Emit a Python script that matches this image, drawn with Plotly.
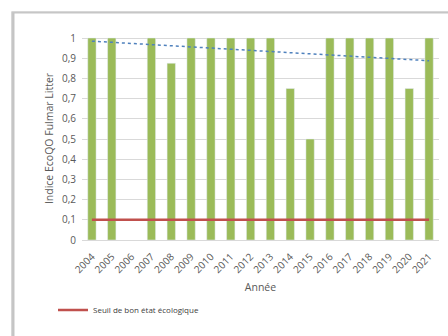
import numpy as np
import plotly.graph_objects as go

years = [str(y) for y in range(2004, 2022)]
values = [1, 1, None, 1, 0.875, 1, 1, 1, 1, 1, 0.75, 0.5, 1, 1, 1, 1, 0.75, 1]
threshold = [0.1] * len(years)
y_ticks = [0, 0.1, 0.2, 0.3, 0.4, 0.5, 0.6, 0.7, 0.8, 0.9, 1]

# linear trend (as Excel trendline) from available data
xs = np.array([int(y) for y, v in zip(years, values) if v is not None], dtype=float)
vs = np.array([v for v in values if v is not None], dtype=float)
slope, intercept = np.polyfit(xs, vs, 1)
trend = [slope * int(y) + intercept for y in years]

W, H = 448, 336
L, R, T, B = 82, 9, 37, 96
pw, ph = W - L - R, H - T - B

def px(x):
    return (x - L) / pw

def py(y):
    return (H - B - y) / ph

fig = go.Figure()
fig.add_trace(go.Bar(x=years, y=values, marker_color="#9bbb59", showlegend=False,
                     name="EcoQO"))
fig.add_trace(go.Scatter(x=years, y=threshold, mode="lines",
                         line=dict(color="#c0504d", width=2.5),
                         name="Seuil de bon état écologique"))
fig.add_trace(go.Scatter(x=years, y=trend, mode="lines",
                         line=dict(color="#4f81bd", width=1.5, dash="dot"),
                         showlegend=False, name="Tendance"))

# chart frame with shadow
fig.add_shape(type="rect", xref="paper", yref="paper",
              x0=px(11), x1=px(460), y0=py(345), y1=py(11),
              line=dict(width=0), fillcolor="#e6e6e6", layer="below")
fig.add_shape(type="rect", xref="paper", yref="paper",
              x0=px(12), x1=px(460), y0=py(345), y1=py(12),
              line=dict(color="#c8c8c8", width=1), fillcolor="#c4c4c4", layer="below")
fig.add_shape(type="rect", xref="paper", yref="paper",
              x0=px(14.5), x1=px(460), y0=py(345), y1=py(13.5),
              line=dict(width=0), fillcolor="white", layer="below")

fig.update_layout(
    width=W, height=H,
    margin=dict(l=L, r=R, t=T, b=B),
    paper_bgcolor="white", plot_bgcolor="rgba(0,0,0,0)",
    separators=", ",
    bargap=0.58,
    font=dict(family="Open Sans", color="#595959"),
    xaxis=dict(type="category", tickangle=-45, tickfont=dict(size=10),
               showgrid=False, showline=True, linecolor="#d9d9d9", linewidth=1,
               ticks="", ticklabelstandoff=6,
               title=dict(text="Année", font=dict(size=10.5), standoff=8)),
    yaxis=dict(range=[0, 1.005], tickvals=y_ticks, tickfont=dict(size=10),
               showgrid=True, gridcolor="#d9d9d9", gridwidth=1, zeroline=False,
               ticks="", ticklabelstandoff=5,
               title=dict(text="Indice EcoQO Fulmar Litter", font=dict(size=10.5), standoff=6)),
    legend=dict(x=px(53), y=py(310), xanchor="left", yanchor="middle",
                font=dict(size=8, color="#404040"), bgcolor="rgba(0,0,0,0)",
                itemwidth=30),
)
fig.write_html("out.html")
